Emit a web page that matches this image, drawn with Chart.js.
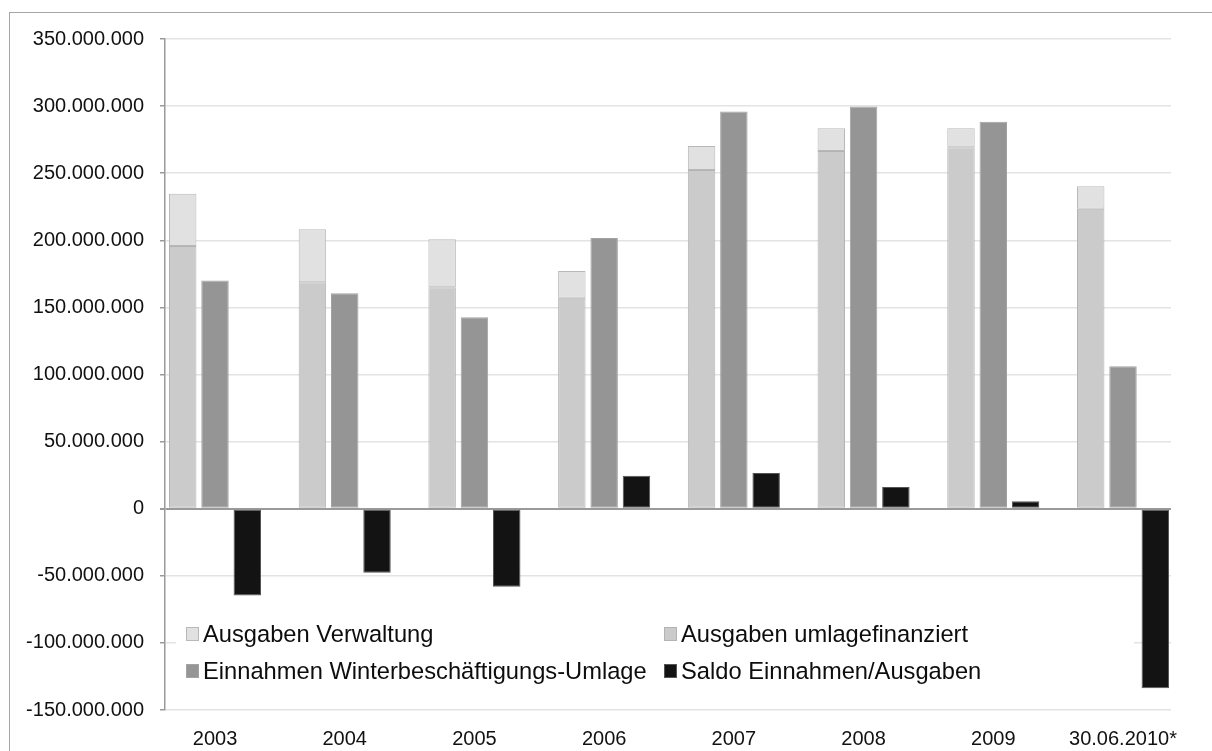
<!DOCTYPE html>
<html>
<head>
<meta charset="utf-8">
<script src="https://cdn.jsdelivr.net/npm/chart.js@4/dist/chart.umd.min.js"></script>
<style>
  html, body { margin: 0; padding: 0; background: #fff; overflow: hidden; }
  #wrap { position: relative; width: 1212px; height: 751px; }
  #rahmen { position: absolute; left: 9px; top: 12px; width: 1300px; height: 900px; border: 1px solid #a6a6a6; box-sizing: border-box; }
  #wrap canvas { position: absolute; left: 0; top: 0; }
</style>
</head>
<body>
<div id="wrap">
  <div id="rahmen"></div>
  <canvas id="chart" width="1212" height="751"></canvas>
</div>
<script>
const jahre = ['2003', '2004', '2005', '2006', '2007', '2008', '2009', '30.06.2010*'];
const ausgabenUmlage = [195800000, 168800000, 165100000, 157100000, 252400000, 266600000, 269300000, 223500000];
const ausgabenVerwaltung = [38800000, 39500000, 35700000, 20100000, 17900000, 16900000, 14200000, 16700000];
const einnahmen = [170000000, 160600000, 142700000, 201800000, 295900000, 299700000, 288400000, 106200000];
const saldo = [-64600000, -47700000, -58100000, 24600000, 26600000, 16200000, 5500000, -133700000];
const yTicks = [-150000000, -100000000, -50000000, 0, 50000000, 100000000, 150000000, 200000000, 250000000, 300000000, 350000000];

const schrift = 'Liberation Sans, Arial, sans-serif';

function punkte(v) {
  const s = Math.abs(v).toString().replace(/\B(?=(\d{3})+(?!\d))/g, '.');
  return (v < 0 ? '-' : '') + s;
}

function alsPunkte(werte) {
  return werte.map((v, i) => ({ x: i, y: v }));
}

// Legende liegt im Diagramm unten links, zwei Spalten
const legendeReihen = [
  ['Ausgaben Verwaltung', 'Ausgaben umlagefinanziert'],
  ['Einnahmen Winterbeschäftigungs-Umlage', 'Saldo Einnahmen/Ausgaben']
];

const legendePlugin = {
  id: 'legendeInnen',
  beforeDatasetsDraw(chart) {
    const ctx = chart.ctx;
    ctx.save();
    ctx.fillStyle = '#fff';
    ctx.fillRect(176, 612, 958, 80);
    ctx.restore();
  },
  afterDraw(chart) {
    const ctx = chart.ctx;
    const spalteX = [186, 664];
    const reiheY = [634, 671];
    ctx.save();
    ctx.font = '23.7px ' + schrift;
    ctx.textBaseline = 'middle';
    legendeReihen.forEach((reihe, r) => {
      reihe.forEach((name, s) => {
        const ds = chart.data.datasets.find(d => d.label === name);
        const x = spalteX[s];
        const y = reiheY[r];
        ctx.fillStyle = ds.backgroundColor;
        ctx.fillRect(x, y - 7, 13, 14);
        ctx.strokeStyle = ds.borderColor;
        ctx.lineWidth = 1;
        ctx.strokeRect(x + 0.5, y - 6.5, 12, 13);
        ctx.fillStyle = '#0d0d0d';
        ctx.fillText(name, x + 17, y + 1);
      });
    });
    ctx.restore();
  }
};

new Chart(document.getElementById('chart'), {
  type: 'bar',
  data: {
    datasets: [
      {
        label: 'Ausgaben umlagefinanziert',
        data: alsPunkte(ausgabenUmlage),
        stack: 'ausgaben',
        backgroundColor: '#cbcbcb',
        borderColor: '#b3b3b3',
        borderWidth: 1,
        borderSkipped: false
      },
      {
        label: 'Ausgaben Verwaltung',
        data: alsPunkte(ausgabenVerwaltung),
        stack: 'ausgaben',
        backgroundColor: '#e1e1e1',
        borderColor: '#b8b8b8',
        borderWidth: 1,
        borderSkipped: false
      },
      {
        label: 'Einnahmen Winterbeschäftigungs-Umlage',
        data: alsPunkte(einnahmen),
        stack: 'einnahmen',
        backgroundColor: '#959595',
        borderColor: '#a3a3a3',
        borderWidth: 1,
        borderSkipped: false
      },
      {
        label: 'Saldo Einnahmen/Ausgaben',
        data: alsPunkte(saldo),
        stack: 'saldo',
        backgroundColor: '#131313',
        borderColor: '#555',
        borderWidth: 1,
        borderSkipped: false
      }
    ]
  },
  options: {
    responsive: false,
    animation: false,
    categoryPercentage: 0.747,
    barPercentage: 0.85,
    layout: { padding: { top: 39, right: 41, bottom: 0, left: 0 } },
    plugins: {
      legend: { display: false },
      tooltip: { enabled: false }
    },
    scales: {
      x: {
        type: 'linear',
        stacked: true,
        offset: false,
        min: -0.3855,
        max: 7.37,
        grid: { display: false, drawTicks: false },
        border: { display: false },
        afterBuildTicks(scale) {
          scale.ticks = jahre.map((j, i) => ({ value: i }));
        },
        afterFit(scale) { scale.height = 41; },
        ticks: {
          padding: 17,
          color: '#111',
          font: { family: schrift, size: 20 },
          callback: v => jahre[v]
        }
      },
      y: {
        stacked: true,
        min: -150000000,
        max: 350000000,
        afterBuildTicks(scale) {
          scale.ticks = yTicks.map(v => ({ value: v }));
        },
        afterFit(scale) { scale.width = 165; },
        grid: {
          color: c => c.tick && c.tick.value === 0 ? '#9a9a9a' : '#e3e3e3',
          lineWidth: c => c.tick && c.tick.value === 0 ? 2 : 1.5,
          tickColor: '#9a9a9a',
          tickLength: 5
        },
        border: { color: '#9a9a9a', width: 1.5 },
        ticks: {
          padding: 16,
          color: '#111',
          font: { family: schrift, size: 20 },
          callback: v => punkte(v)
        }
      }
    }
  },
  plugins: [legendePlugin]
});
</script>
</body>
</html>
